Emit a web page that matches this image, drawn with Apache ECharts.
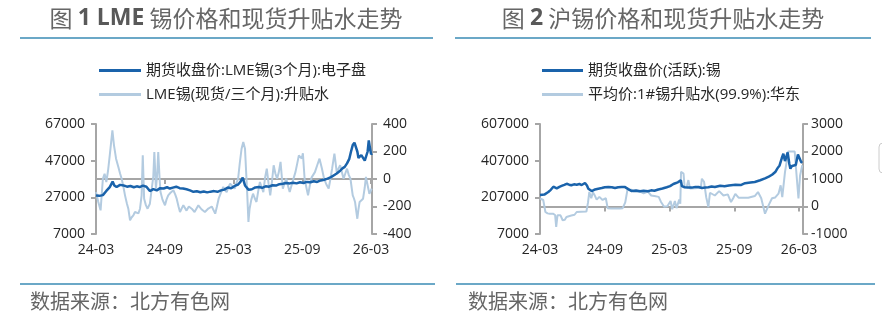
<!DOCTYPE html>
<html>
<head>
<meta charset="utf-8">
<script src="https://cdn.jsdelivr.net/npm/echarts@6/dist/echarts.min.js"></script>
<style>
  html, body { margin: 0; padding: 0; background: #fff; }
  #chart { width: 882px; height: 326px; }
</style>
</head>
<body>
<div id="chart"></div>
<script>
// x 轴：以 2024-03 为 0 的月份偏移
const xLabels = ["24-03", "24-09", "25-03", "25-09", "26-03"];

// 图1 LME 锡 3个月收盘价
const lmeT = [0,0.3,0.6,0.9,1.2,1.45,1.6,1.8,2.1,2.4,2.7,3.0,3.3,3.55,3.8,4.1,4.4,4.7,5.0,5.3,5.6,5.9,6.2,6.45,6.7,7.0,7.3,7.6,7.9,8.2,8.5,8.8,9.1,9.4,9.7,10.0,10.3,10.6,10.9,11.2,11.5,11.8,12.1,12.4,12.6,12.8,13.0,13.3,13.6,13.9,14.2,14.5,14.8,15.1,15.4,15.7,16.0,16.3,16.6,16.9,17.2,17.5,17.8,18.1,18.4,18.7,19.0,19.3,19.6,19.9,20.2,20.5,20.8,21.0,21.3,21.5,21.7,21.9,22.1,22.25,22.4,22.55,22.7,22.8,22.9,23.0,23.15,23.3,23.45,23.6,23.7,23.8,23.9,24.0,24.08];
const lmePrice = [28000,27800,28200,30500,32600,35600,33500,32600,33800,33500,32800,33200,32500,33000,32600,33400,32800,30400,31500,30800,32000,31800,32500,31800,32300,32800,32000,31800,31400,30800,30000,30300,29800,30200,29700,30100,30400,30000,30800,31200,32400,32000,33200,34000,35400,37800,33500,31200,31400,32400,32600,32200,33000,32800,33600,33400,34200,34400,34800,34600,35000,34600,35200,34800,35400,35200,35800,35400,36200,36600,37200,38000,39200,40000,41500,42800,43600,45500,48000,52000,55500,56800,56000,52000,48500,48000,50000,49000,47000,46500,52000,58000,54000,50500,51000];

// 图1 LME 锡 现货/三个月 升贴水
const lmeSpreadT = [0,0.2,0.4,0.6,0.75,0.9,1.05,1.2,1.43,1.57,1.75,1.95,2.1,2.24,2.4,2.53,2.7,2.82,2.97,3.1,3.26,3.4,3.55,3.7,3.84,3.98,4.08,4.2,4.35,4.5,4.7,4.85,5.0,5.09,5.23,5.35,5.43,5.55,5.63,5.8,6.02,6.15,6.3,6.5,6.75,6.9,7.04,7.2,7.33,7.5,7.62,7.77,7.9,8.1,8.35,8.6,8.93,9.2,9.5,9.8,10.1,10.4,10.55,10.7,10.9,11.1,11.25,11.4,11.55,11.7,11.9,12.1,12.25,12.4,12.55,12.7,12.85,13.0,13.1,13.2,13.3,13.4,13.55,13.7,13.85,14.0,14.15,14.3,14.45,14.6,14.75,14.9,15.05,15.2,15.35,15.5,15.65,15.8,15.95,16.1,16.3,16.45,16.6,16.75,16.9,17.15,17.4,17.55,17.7,17.95,18.05,18.2,18.35,18.5,18.65,18.8,18.95,19.1,19.3,19.5,19.7,19.9,20.1,20.3,20.45,20.6,20.8,20.9,21.0,21.15,21.3,21.45,21.6,21.75,21.9,22.05,22.2,22.3,22.4,22.5,22.6,22.7,22.8,22.9,23.0,23.15,23.3,23.45,23.55,23.7,23.85,23.95,24.05];
const lmeSpread = [-95,-167,-228,2,38,-22,60,172,354,245,148,87,40,2,-60,-119,-180,-216,-300,-280,-264,-240,-228,-250,-216,-119,172,-143,-190,-216,-180,-167,20,196,-70,50,196,0,-95,-150,-191,-150,-119,-100,-82,-110,-143,-200,-240,-210,-191,-204,-230,-200,-216,-240,-191,-220,-240,-215,-200,-252,-200,-143,-100,-58,-80,-95,-60,-34,-50,-70,-30,2,120,220,269,220,50,-119,-313,-216,-150,-107,-140,-167,-90,-22,-60,-95,10,75,-30,-119,-20,100,40,2,50,124,-70,-30,2,-50,-95,-20,50,110,172,148,187,2,-60,-119,-50,10,30,50,100,148,80,2,-40,-70,0,75,184,120,50,60,100,50,2,40,75,30,2,-60,-119,-140,-167,-230,-289,-220,-167,-180,-143,-60,15,27,-107,-90,-70];

// 图2 沪锡 活跃合约收盘价
const shfeT = [0,0.4,0.77,1.0,1.24,1.55,1.8,2.0,2.25,2.47,2.7,2.9,3.15,3.4,3.65,3.86,4.17,4.35,4.48,4.79,5.1,5.4,5.72,6.0,6.33,6.65,6.95,7.25,7.57,7.88,8.18,8.5,8.9,9.27,9.6,10.0,10.3,10.6,10.96,11.35,11.74,12.05,12.36,12.6,12.8,13.05,13.15,13.4,13.7,14.06,14.4,14.7,15.0,15.3,15.6,15.9,16.2,16.7,17.1,17.5,18.1,18.6,19.0,19.5,19.9,20.4,20.85,21.2,21.5,21.8,22.0,22.2,22.4,22.55,22.7,22.8,22.95,23.1,23.2,23.35,23.5,23.7,23.8,23.9,24.05,24.2,24.3];
const shfePrice = [220000,222000,236000,248000,265000,256000,264000,269000,275000,281000,276000,273000,278000,276000,280000,274000,285000,272000,254000,241000,250000,254000,258000,262000,264000,262000,258000,262000,264000,263000,252000,241000,244000,240000,243000,240000,245000,243000,250000,255000,262000,268000,280000,285000,290000,300000,268000,262000,260000,260000,264000,263000,258000,260000,262000,266000,263000,270000,268000,272000,275000,274000,284000,288000,291000,300000,310000,320000,330000,345000,365000,381000,420000,445000,405000,400000,452000,390000,363000,378000,381000,383000,386000,440000,430000,400000,395000];

// 图2 1#锡升贴水(99.9%):华东
const shfeSpreadT = [0,0.3,0.5,0.7,0.9,1.2,1.4,1.5,1.62,1.9,2.1,2.3,2.45,2.9,3.2,3.4,3.8,4.3,4.45,4.57,4.75,4.9,5.05,5.25,5.5,5.8,6.1,6.27,6.6,7.0,7.4,7.66,7.9,8.1,8.5,8.7,9.3,9.6,10.0,10.3,10.6,11.0,11.2,11.5,11.8,12.1,12.25,12.5,12.65,12.9,13.0,13.07,13.3,13.4,13.6,13.75,13.9,14.3,14.9,15.0,15.2,15.4,15.6,15.75,16.2,16.6,17.0,17.4,17.7,17.9,18.1,18.4,19.3,19.9,20.2,20.5,20.85,21.2,21.5,21.8,22.1,22.3,22.45,22.7,22.9,23.0,23.6,23.8,23.95,24.1,24.3];
const shfeSpread = [290,236,-200,-250,-262,-260,-309,-740,-320,-320,-500,-480,-380,-330,-300,-200,-190,-180,150,530,300,520,420,250,350,240,300,-60,-70,-70,-70,-60,150,600,610,540,540,480,540,400,380,350,175,-7,10,200,-100,200,-60,250,100,1260,1200,700,720,960,650,660,680,1010,900,340,-20,500,400,560,400,440,160,300,460,320,320,380,527,300,-262,60,300,330,465,771,340,1250,1740,2000,2000,1010,290,1130,1500];

function zip(xs, ys) {
  const n = Math.min(xs.length, ys.length);
  const out = [];
  for (let i = 0; i < n; i++) out.push([xs[i], ys[i]]);
  return out;
}

const darkBlue = "#1a63ab";
const lightBlue = "#b3cbe0";
const axisGray = "#a6a6a6";
const labelFont = "'Open Sans', 'Noto Sans CJK SC', sans-serif";

function xAxisOf(gridIndex, max) {
  return {
    type: "value",
    gridIndex: gridIndex,
    min: 0,
    max: max,
    interval: 6,
    axisLine: { show: true, lineStyle: { color: axisGray, width: 2 } },
    axisTick: { show: true, length: 5, lineStyle: { color: axisGray, width: 2 } },
    axisLabel: {
      color: "#262626",
      fontSize: 14,
      fontFamily: labelFont,
      margin: 9,
      showMaxLabel: false,
      formatter: function (v) {
        return v % 6 === 0 ? xLabels[v / 6] : "";
      },
    },
    splitLine: { show: false },
  };
}

function yAxisOf(gridIndex, pos, min, max, interval, margin) {
  return {
    type: "value",
    gridIndex: gridIndex,
    position: pos,
    min: min,
    max: max,
    interval: interval,
    axisLine: { show: true, lineStyle: { color: axisGray, width: 2 } },
    axisTick: { show: true, length: 5, lineStyle: { color: axisGray, width: 2 } },
    axisLabel: {
      color: "#262626", fontSize: 14, fontFamily: labelFont, margin: margin,
      formatter: function (v) { return String(v); },
    },
    splitLine: { show: false },
  };
}

const legendText = { color: "#262626", fontSize: 15, lineHeight: 17, fontFamily: labelFont };

const titleRich = {
  n: { fontSize: 23, fill: "#666666", fontWeight: "normal", fontFamily: "'Noto Sans CJK SC', sans-serif" },
  b: { fontSize: 23, fill: "#595959", fontWeight: "bold", fontFamily: "'Open Sans', sans-serif" },
};

const chart = echarts.init(document.getElementById("chart"));
chart.setOption({
  animation: false,
  grid: [
    { left: 96, top: 124, width: 276, height: 110 },
    { left: 540, top: 124, width: 263, height: 110 },
  ],
  legend: [
    {
      orient: "vertical", left: 94, top: 57, itemGap: 7,
      icon: "rect", itemWidth: 42, itemHeight: 3,
      textStyle: legendText,
      data: ["期货收盘价:LME锡(3个月):电子盘", "LME锡(现货/三个月):升贴水"],
    },
    {
      orient: "vertical", left: 537, top: 57, itemGap: 7,
      icon: "rect", itemWidth: 41, itemHeight: 3,
      textStyle: legendText,
      data: ["期货收盘价(活跃):锡", "平均价:1#锡升贴水(99.9%):华东"],
    },
  ],
  xAxis: [xAxisOf(0, 24.08), xAxisOf(1, 24.37)],
  yAxis: [
    yAxisOf(0, "left", 7000, 67000, 20000, 11),
    yAxisOf(0, "right", -400, 400, 200, 11),
    yAxisOf(1, "left", 7000, 607000, 200000, 11),
    yAxisOf(1, "right", -1000, 3000, 1000, 8),
  ],
  series: [
    {
      name: "期货收盘价:LME锡(3个月):电子盘", type: "line",
      xAxisIndex: 0, yAxisIndex: 0, z: 3,
      showSymbol: false, color: darkBlue, lineStyle: { width: 2.5, color: darkBlue },
      data: zip(lmeT, lmePrice),
    },
    {
      name: "LME锡(现货/三个月):升贴水", type: "line",
      xAxisIndex: 0, yAxisIndex: 1, z: 2,
      showSymbol: false, color: lightBlue, lineStyle: { width: 2, color: lightBlue },
      data: zip(lmeSpreadT, lmeSpread),
    },
    {
      name: "期货收盘价(活跃):锡", type: "line",
      xAxisIndex: 1, yAxisIndex: 2, z: 3,
      showSymbol: false, color: darkBlue, lineStyle: { width: 2.5, color: darkBlue },
      data: zip(shfeT, shfePrice),
    },
    {
      name: "平均价:1#锡升贴水(99.9%):华东", type: "line",
      xAxisIndex: 1, yAxisIndex: 3, z: 2,
      showSymbol: false, color: lightBlue, lineStyle: { width: 2, color: lightBlue },
      data: zip(shfeSpreadT, shfeSpread),
    },
  ],
  graphic: [
    // 标题
    {
      type: "text", x: 226, y: 18,
      style: { text: "{n|图 }{b|1 LME}{n| 锡价格和现货升贴水走势}", align: "center", verticalAlign: "middle", rich: titleRich },
    },
    {
      type: "text", x: 663, y: 18,
      style: { text: "{n|图 }{b|2}{n| 沪锡价格和现货升贴水走势}", align: "center", verticalAlign: "middle", rich: titleRich },
    },
    // 分隔线
    { type: "line", shape: { x1: 20, y1: 38, x2: 433, y2: 38 }, style: { stroke: "#3a8bb5", lineWidth: 1.5 } },
    { type: "line", shape: { x1: 455, y1: 38, x2: 871, y2: 38 }, style: { stroke: "#3a8bb5", lineWidth: 1.5 } },
    { type: "line", shape: { x1: 20, y1: 284, x2: 435, y2: 284 }, style: { stroke: "#3a8bb5", lineWidth: 1.5 } },
    { type: "line", shape: { x1: 456, y1: 284, x2: 875, y2: 284 }, style: { stroke: "#3a8bb5", lineWidth: 1.5 } },
    // 数据来源
    {
      type: "text", x: 30, y: 301,
      style: { text: "数据来源：北方有色网", fontSize: 20, fill: "#666", verticalAlign: "middle", fontFamily: "'Noto Sans CJK SC', sans-serif" },
    },
    {
      type: "text", x: 468, y: 301,
      style: { text: "数据来源：北方有色网", fontSize: 20, fill: "#666", verticalAlign: "middle", fontFamily: "'Noto Sans CJK SC', sans-serif" },
    },
    // 右侧残留的圆角框
    {
      type: "rect", shape: { x: 879, y: 143, width: 20, height: 30, r: 4 },
      style: { fill: "none", stroke: "#cccccc", lineWidth: 1 },
    },
  ],
});
</script>
</body>
</html>
